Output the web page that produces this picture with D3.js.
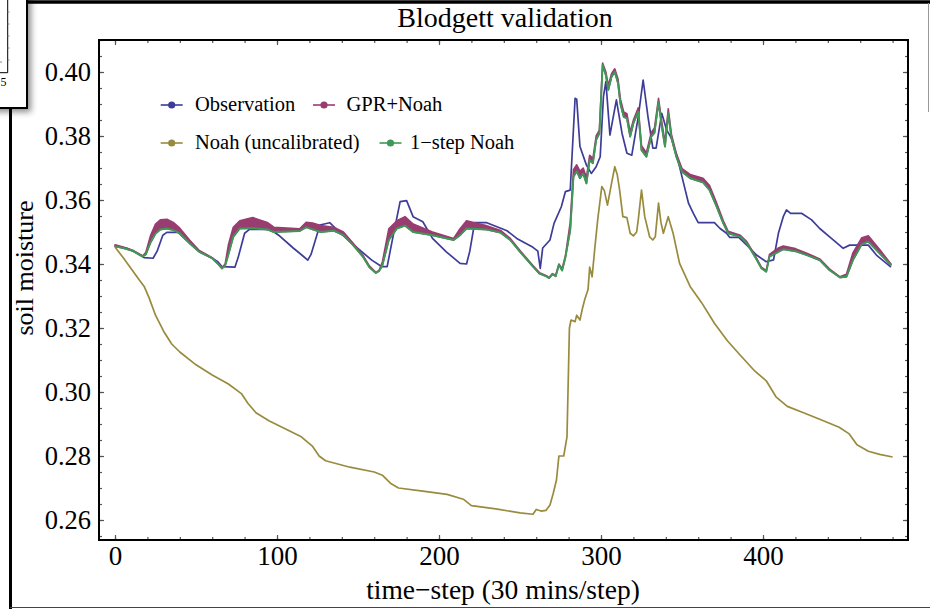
<!DOCTYPE html>
<html><head><meta charset="utf-8">
<script src="https://cdn.jsdelivr.net/npm/d3@7"></script>
<style>
body{margin:0;background:#fff}
svg{display:block}
text{font-family:"Liberation Serif","Times New Roman",serif;fill:#000}
</style>
</head><body>
<svg id="c" width="930" height="609"></svg>
<script>
// ---------------- data ----------------
const chartTitle = "Blodgett validation";
const xLabel = "time\u2212step (30 mins/step)";
const yLabel = "soil moisture";
const seriesNames = ["Observation", "GPR+Noah", "Noah (uncalibrated)", "1\u2212step Noah"];
const seriesColors = ["#3d3d99", "#993d71", "#998b3d", "#3d9956"];
const xTickValues = [0, 100, 200, 300, 400];
const yTickValues = [0.26, 0.28, 0.30, 0.32, 0.34, 0.36, 0.38, 0.40];

const obsSteps = [0,8,16,18,23.5,26,29.5,32,39,45,52.5,60,63.5,66,74,76,80,83,96,101,110,116,119,121,126.5,132.5,139,145,151,158.5,164.5,168,171,176,180,184,190,196,204.5,213,217,219,222,229.5,233,242,248,258,261,262.5,264,268.5,271,275.5,278,281,284,285,287,291,294,297,299.5,301.5,303,305.5,309.5,313,316,319,323,326,329,332,334,337.5,340.5,343.5,347,351,354,357,360,370,373.5,377.5,379.5,385,390,396,402,406.5,409.5,412.5,414.5,417,424,430,435,441.5,449.5,453.5,465,470,479];
const obsValues = [0.3457,0.3448,0.3428,0.3420,0.3418,0.3440,0.3490,0.3499,0.3499,0.3470,0.3438,0.3418,0.3407,0.3392,0.3390,0.3420,0.3496,0.3508,0.3508,0.3490,0.3450,0.3425,0.3412,0.3430,0.3522,0.3529,0.3497,0.3470,0.3444,0.3412,0.3392,0.3392,0.3470,0.3595,0.3598,0.3548,0.3532,0.3480,0.3438,0.3402,0.3400,0.3440,0.3529,0.3529,0.3522,0.3504,0.3480,0.3452,0.3440,0.3386,0.3450,0.3475,0.3527,0.3579,0.3626,0.3631,0.3918,0.3915,0.3767,0.3709,0.3683,0.3704,0.3735,0.3923,0.3970,0.3803,0.3913,0.3808,0.3746,0.3740,0.3860,0.3975,0.3860,0.3762,0.3762,0.3871,0.3819,0.3793,0.3735,0.3652,0.3590,0.3558,0.3529,0.3529,0.3511,0.3496,0.3483,0.3483,0.3459,0.3428,0.3407,0.3413,0.3496,0.3548,0.3569,0.3558,0.3558,0.3538,0.3511,0.3483,0.3449,0.3459,0.3459,0.3428,0.3390];

const modelSteps = [0,5,11,17,19,22,25,28,32,36,40,46,52,60,64,66,68,70,73,77,85,94,98,114,118,122,127,135,141,147,153,157,161,163,165,169,174,179,184,196,209,213,217,229,238,244,250,258,262,266,268,270,272,274,276,278,281,283,285,287,289,291,293,295,297,299,301,303,304.5,306.5,308.5,310.5,312,314,316,318,320,323,325,328,331,333,335.5,337.5,339.5,341.5,343.5,346.5,350,355,363,367,371,375.5,378.5,386,390,395,399,402,404,409.5,412.5,420,427,435,441,447.5,451.5,455.5,461,465,472,479];
const oneStepValues = [0.3455,0.3450,0.3441,0.3423,0.3430,0.3468,0.3495,0.3508,0.3511,0.3506,0.3496,0.3465,0.3438,0.3418,0.3398,0.3386,0.3395,0.3430,0.3485,0.3511,0.3512,0.3508,0.3500,0.3503,0.3515,0.3508,0.3500,0.3504,0.3490,0.3459,0.3423,0.3390,0.3372,0.3378,0.3395,0.3475,0.3511,0.3520,0.3500,0.3490,0.3475,0.3490,0.3511,0.3508,0.3498,0.3475,0.3438,0.3392,0.3370,0.3362,0.3356,0.3368,0.3362,0.3397,0.3380,0.3420,0.3506,0.3673,0.3690,0.3668,0.3683,0.3652,0.3725,0.3715,0.3788,0.3808,0.4022,0.3990,0.3944,0.3985,0.4001,0.3965,0.3900,0.3860,0.3855,0.3798,0.3840,0.3876,0.3756,0.3735,0.3798,0.3810,0.3907,0.3830,0.3767,0.3871,0.3793,0.3735,0.3688,0.3668,0.3655,0.3631,0.3584,0.3527,0.3496,0.3485,0.3465,0.3423,0.3387,0.3376,0.3423,0.3438,0.3446,0.3440,0.3428,0.3412,0.3381,0.3358,0.3360,0.3412,0.3462,0.3470,0.3433,0.3397];
const gprValues = [0.3460,0.3453,0.3443,0.3425,0.3436,0.3490,0.3525,0.3538,0.3540,0.3530,0.3512,0.3475,0.3442,0.3420,0.3400,0.3388,0.3400,0.3460,0.3515,0.3535,0.3545,0.3530,0.3515,0.3510,0.3530,0.3528,0.3520,0.3515,0.3500,0.3465,0.3428,0.3394,0.3374,0.3380,0.3405,0.3510,0.3535,0.3548,0.3525,0.3500,0.3480,0.3510,0.3535,0.3520,0.3505,0.3480,0.3442,0.3395,0.3373,0.3364,0.3358,0.3370,0.3365,0.3400,0.3385,0.3425,0.3530,0.3695,0.3710,0.3690,0.3700,0.3670,0.3740,0.3730,0.3800,0.3818,0.4028,0.4000,0.3958,0.3995,0.4010,0.3978,0.3915,0.3875,0.3870,0.3812,0.3850,0.3888,0.3770,0.3748,0.3810,0.3825,0.3918,0.3845,0.3780,0.3885,0.3805,0.3745,0.3698,0.3680,0.3668,0.3645,0.3595,0.3535,0.3502,0.3490,0.3470,0.3428,0.3390,0.3380,0.3430,0.3450,0.3456,0.3448,0.3434,0.3416,0.3385,0.3360,0.3368,0.3435,0.3482,0.3488,0.3445,0.3400];

const noahSteps = [0,5,10,15,18,21,25,30,35,40,50,60,70,78,82,87,95,105,115,122,126,130,145,160,165,170,175,190,205,215,220,235,250,258,260,263,266,268.5,270.5,272.5,274,277,279,280.5,281.5,284,285,287,288.5,290,292,293,294.5,296,298,300.5,302,304,306.5,308.5,310,311.5,313.5,316,318,320,322,323,325,327,330,332,333.5,335.5,337,338.5,341.5,344.5,348.5,355,362,370,378,386,395,402,408,415,425,435,447,453,458,465,472,480];
const noahValues = [0.3453,0.3420,0.3385,0.3350,0.3330,0.3295,0.3240,0.3190,0.3150,0.3125,0.3085,0.3053,0.3025,0.2995,0.2965,0.2935,0.2910,0.2885,0.2860,0.2830,0.2800,0.2785,0.2765,0.2750,0.2740,0.2715,0.2700,0.2690,0.2680,0.2665,0.2645,0.2635,0.2622,0.2618,0.2633,0.2628,0.2630,0.2647,0.2683,0.2725,0.2800,0.2800,0.2860,0.3200,0.3225,0.3220,0.3240,0.3225,0.3260,0.3290,0.3320,0.3390,0.3360,0.3440,0.3540,0.3642,0.3630,0.3584,0.3652,0.3704,0.3680,0.3631,0.3548,0.3545,0.3496,0.3488,0.3500,0.3538,0.3631,0.3548,0.3485,0.3475,0.3485,0.3590,0.3530,0.3496,0.3548,0.3496,0.3402,0.3330,0.3280,0.3215,0.3160,0.3115,0.3065,0.3035,0.2985,0.2955,0.2935,0.2915,0.2890,0.2870,0.2835,0.2815,0.2805,0.2797];

// ---------------- layout ----------------
const svg = d3.select("#c");
const L = 99, R = 908, T = 40, B = 540;
const x = d3.scaleLinear().domain([-9.88, 489.5]).range([L, R]);
const y = d3.scaleLinear().domain([0.25375, 0.41]).range([B, T]);

const defs = svg.append("defs");
defs.append("clipPath").attr("id", "plotclip").append("rect")
  .attr("x", L).attr("y", T).attr("width", R - L).attr("height", B - T);
const f = defs.append("filter").attr("id", "shadow").attr("x", "-50%").attr("y", "-50%").attr("width", "200%").attr("height", "200%");
f.append("feDropShadow").attr("dx", 3).attr("dy", 3).attr("stdDeviation", 3).attr("flood-color", "#000").attr("flood-opacity", 0.45);

// outer page frame
svg.append("line").attr("x1", 0).attr("x2", 930).attr("y1", 2).attr("y2", 2).attr("stroke", "#000").attr("stroke-width", 3.5);
svg.append("line").attr("x1", 10.5).attr("x2", 10.5).attr("y1", 0).attr("y2", 609).attr("stroke", "#000").attr("stroke-width", 3);
svg.append("line").attr("x1", 10).attr("x2", 930).attr("y1", 607.5).attr("y2", 607.5).attr("stroke", "#444").attr("stroke-width", 1);
svg.append("line").attr("x1", 928.5).attr("x2", 928.5).attr("y1", 3).attr("y2", 112).attr("stroke", "#999").attr("stroke-width", 1);

// inset box (partly off page)
const inset = svg.append("g");
inset.append("rect").attr("x", -10).attr("y", -10).attr("width", 37).attr("height", 118)
  .attr("fill", "#fff").attr("stroke", "#000").attr("stroke-width", 2).attr("filter", "url(#shadow)");
inset.append("path").attr("d", "M7.7,0 V72.7 H0").attr("fill", "none").attr("stroke", "#000").attr("stroke-width", 1);
[12, 24, 36, 48, 60].forEach(v => inset.append("line").attr("x1", 7.7).attr("x2", 9.5).attr("y1", v).attr("y2", v).attr("stroke", "#888").attr("stroke-width", 1));
inset.append("line").attr("x1", 0).attr("x2", 2).attr("y1", 62).attr("y2", 62).attr("stroke", "#888");
inset.append("text").attr("x", 0.5).attr("y", 86).attr("font-size", 12).text("5");

// title
svg.append("text").attr("x", 505).attr("y", 27).attr("text-anchor", "middle").attr("font-size", 28).text(chartTitle);

// data lines
const plot = svg.append("g").attr("clip-path", "url(#plotclip)");
const pts = (s, v) => s.map((t, i) => [t, v[i]]);
const line = d3.line().x(d => x(d[0])).y(d => y(d[1]));
const area = d3.area().x(d => x(d.t)).y0(d => y(d.lo)).y1(d => y(d.hi));

plot.append("path").datum(pts(obsSteps, obsValues)).attr("d", line)
  .attr("fill", "none").attr("stroke", seriesColors[0]).attr("stroke-width", 1.7).attr("stroke-linejoin", "round");
const band = modelSteps.map((t, i) => ({t, lo: oneStepValues[i], hi: gprValues[i]}));
plot.append("path").datum(band).attr("d", area)
  .attr("fill", seriesColors[1]).attr("stroke", seriesColors[1]).attr("stroke-width", 1.6).attr("stroke-linejoin", "round");
plot.append("path").datum(pts(noahSteps, noahValues)).attr("d", line)
  .attr("fill", "none").attr("stroke", seriesColors[2]).attr("stroke-width", 1.7).attr("stroke-linejoin", "round");
plot.append("path").datum(pts(modelSteps, oneStepValues)).attr("d", line)
  .attr("fill", "none").attr("stroke", seriesColors[3]).attr("stroke-width", 1.9).attr("stroke-linejoin", "round");

// ticks (inside, mirrored)
const tickCol = "#555";
const xMinor = d3.range(0, 481, 20);
const yMinor = d3.range(0, 32).map(i => +(0.255 + i * 0.005).toFixed(3)).filter(v => v <= 0.41);
function styleAxis(g) {
  g.select(".domain").remove();
  g.selectAll(".tick line").attr("stroke", tickCol).attr("stroke-width", 1.2);
}
svg.append("g").attr("transform", `translate(0,${B})`).call(d3.axisBottom(x).tickValues(xMinor).tickSize(-3).tickFormat("")).call(styleAxis);
svg.append("g").attr("transform", `translate(0,${T})`).call(d3.axisTop(x).tickValues(xMinor).tickSize(-3).tickFormat("")).call(styleAxis);
svg.append("g").attr("transform", `translate(${L},0)`).call(d3.axisLeft(y).tickValues(yMinor).tickSize(-3).tickFormat("")).call(styleAxis);
svg.append("g").attr("transform", `translate(${R},0)`).call(d3.axisRight(y).tickValues(yMinor).tickSize(-3).tickFormat("")).call(styleAxis);

const xb = svg.append("g").attr("transform", `translate(0,${B})`)
  .call(d3.axisBottom(x).tickValues(xTickValues).tickSize(-5).tickPadding(6).tickFormat(d3.format("d")));
styleAxis(xb);
xb.selectAll("text").attr("font-size", 27).attr("font-family", "Liberation Serif").attr("fill", "#000").attr("dy", "0.71em");
svg.append("g").attr("transform", `translate(0,${T})`).call(d3.axisTop(x).tickValues(xTickValues).tickSize(-5).tickFormat("")).call(styleAxis);

const yl = svg.append("g").attr("transform", `translate(${L},0)`)
  .call(d3.axisLeft(y).tickValues(yTickValues).tickSize(-5).tickPadding(8).tickFormat(d3.format(".2f")));
styleAxis(yl);
yl.selectAll("text").attr("font-size", 26.5).attr("font-family", "Liberation Serif").attr("fill", "#000").attr("dy", "0.32em");
svg.append("g").attr("transform", `translate(${R},0)`).call(d3.axisRight(y).tickValues(yTickValues).tickSize(-5).tickFormat("")).call(styleAxis);

// frame
svg.append("rect").attr("x", L).attr("y", T).attr("width", R - L).attr("height", B - T)
  .attr("fill", "none").attr("stroke", "#000").attr("stroke-width", 2);

// axis labels
svg.append("text").attr("x", 503).attr("y", 599).attr("text-anchor", "middle").attr("font-size", 27.5).text(xLabel);
svg.append("text").attr("transform", "translate(33,268) rotate(-90)").attr("text-anchor", "middle").attr("font-size", 26).text(yLabel);

// legend
const legendItems = [
  {i: 0, mx: 171.7, tx: 195, yy: 105},
  {i: 1, mx: 324, tx: 346.5, yy: 105},
  {i: 2, mx: 171.7, tx: 195, yy: 143},
  {i: 3, mx: 390.5, tx: 410, yy: 143}
];
const lg = svg.append("g");
legendItems.forEach(d => {
  const g = lg.append("g");
  g.append("line").attr("x1", d.mx - 11).attr("x2", d.mx + 11).attr("y1", d.yy).attr("y2", d.yy)
    .attr("stroke", seriesColors[d.i]).attr("stroke-width", 1.6);
  g.append("circle").attr("cx", d.mx).attr("cy", d.yy).attr("r", 3.6).attr("fill", seriesColors[d.i]);
  g.append("text").attr("x", d.tx).attr("y", d.yy + 6).attr("font-size", 20.5).text(seriesNames[d.i]);
});
</script>
</body></html>
